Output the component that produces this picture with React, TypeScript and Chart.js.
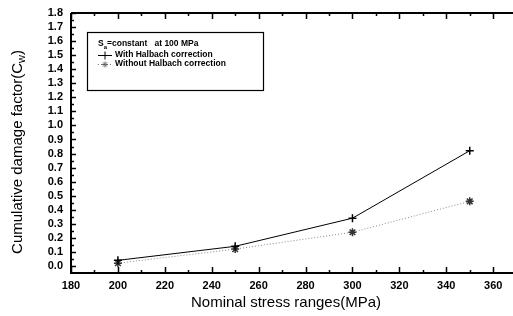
import React, { useEffect, useRef } from 'react';
import { Chart, registerables } from 'chart.js';
Chart.register(...registerables);

const stressRanges = [200, 250, 300, 350];
const withHalbach = [0.04, 0.14, 0.34, 0.82];
const withoutHalbach = [0.02, 0.12, 0.24, 0.46];
const xTickLabels = [180, 200, 220, 240, 260, 280, 300, 320, 340, 360];
const yTickLabels = [0.0, 0.1, 0.2, 0.3, 0.4, 0.5, 0.6, 0.7, 0.8, 0.9, 1.0, 1.1, 1.2, 1.3, 1.4, 1.5, 1.6, 1.7, 1.8];
const xTitle = 'Nominal stress ranges(MPa)';
const yTitle = 'Cumulative damage factor(C';
const yTitleSub = 'w';
const legendHeader = 'S';
const legendHeaderSub = 'a';
const legendHeaderRest = '=constant   at 100 MPa';
const seriesNames = ['With Halbach correction', 'Without Halbach correction'];

const FONT = '"Liberation Sans", Arial, sans-serif';

const framePlugin = {
  id: 'frame',
  afterDraw(chart: any) {
    const { ctx, chartArea, scales } = chart;
    const { left, top, bottom } = chartArea;
    const x = scales.x;
    const y = scales.y;
    const edge = chart.width;
    ctx.save();
    ctx.strokeStyle = '#000';
    ctx.fillStyle = '#000';
    ctx.lineWidth = 2;
    ctx.beginPath();
    ctx.moveTo(left, top);
    ctx.lineTo(edge, top);
    ctx.moveTo(left, top);
    ctx.lineTo(left, bottom);
    ctx.lineTo(edge, bottom);
    ctx.stroke();

    // x ticks
    ctx.lineWidth = 1.5;
    for (let v = 180; v <= 360; v += 10) {
      const px = Math.round(x.getPixelForValue(v)) + 0.5;
      const len = v % 20 === 0 ? 6 : 3;
      ctx.beginPath();
      ctx.moveTo(px, bottom);
      ctx.lineTo(px, bottom - len);
      ctx.moveTo(px, top);
      ctx.lineTo(px, top + len);
      ctx.stroke();
    }
    // y ticks
    for (let i = 0; i <= 36; i++) {
      const v = i * 0.05;
      const py = Math.round(y.getPixelForValue(v)) + 0.5;
      const len = i % 2 === 0 ? 5 : 3;
      ctx.beginPath();
      ctx.moveTo(left, py);
      ctx.lineTo(left + len, py);
      ctx.stroke();
    }

    // tick labels
    ctx.font = `bold 11px ${FONT}`;
    ctx.textAlign = 'center';
    ctx.textBaseline = 'middle';
    xTickLabels.forEach((v) => {
      ctx.fillText(String(v), x.getPixelForValue(v), bottom + 13);
    });
    ctx.textAlign = 'right';
    yTickLabels.forEach((v) => {
      ctx.fillText(v.toFixed(1), left - 8, y.getPixelForValue(v));
    });

    // axis titles
    ctx.font = `15px ${FONT}`;
    ctx.textAlign = 'center';
    ctx.fillText(xTitle, 286, 303);

    ctx.save();
    ctx.translate(18, 152);
    ctx.rotate(-Math.PI / 2);
    ctx.font = `15px ${FONT}`;
    const w1 = ctx.measureText(yTitle).width;
    ctx.font = `11px ${FONT}`;
    const w2 = ctx.measureText(yTitleSub).width;
    ctx.font = `15px ${FONT}`;
    const w3 = ctx.measureText(')').width;
    const total = w1 + w2 + w3;
    let cx = -total / 2;
    ctx.textAlign = 'left';
    ctx.fillText(yTitle, cx, 0);
    cx += w1;
    ctx.font = `11px ${FONT}`;
    ctx.fillText(yTitleSub, cx, 4);
    cx += w2;
    ctx.font = `15px ${FONT}`;
    ctx.fillText(')', cx, 0);
    ctx.restore();

    // legend box
    ctx.lineWidth = 1.2;
    ctx.strokeRect(87.5, 32.5, 176, 58);
    ctx.textAlign = 'left';
    ctx.textBaseline = 'middle';
    ctx.font = `bold 8.5px ${FONT}`;
    ctx.fillText(legendHeader, 98, 44);
    const sw = ctx.measureText(legendHeader).width;
    ctx.font = `bold 6px ${FONT}`;
    ctx.fillText(legendHeaderSub, 98 + sw, 47);
    const aw = ctx.measureText(legendHeaderSub).width;
    ctx.font = `bold 8.5px ${FONT}`;
    ctx.fillText(legendHeaderRest, 98 + sw + aw, 44);

    // series 1 sample
    ctx.lineWidth = 1;
    ctx.strokeStyle = '#000';
    ctx.beginPath();
    ctx.moveTo(98, 55.5);
    ctx.lineTo(112, 55.5);
    ctx.moveTo(105, 51.5);
    ctx.lineTo(105, 59.5);
    ctx.stroke();
    ctx.fillText(seriesNames[0], 115, 55);

    // series 2 sample
    ctx.strokeStyle = '#777';
    ctx.setLineDash([1, 2]);
    ctx.beginPath();
    ctx.moveTo(98, 64.5);
    ctx.lineTo(112, 64.5);
    ctx.stroke();
    ctx.setLineDash([]);
    ctx.strokeStyle = '#666';
    const sx = 105, sy = 64.5, r = 3;
    ctx.beginPath();
    for (let k = 0; k < 4; k++) {
      const a = (k * Math.PI) / 4;
      ctx.moveTo(sx - r * Math.cos(a), sy - r * Math.sin(a));
      ctx.lineTo(sx + r * Math.cos(a), sy + r * Math.sin(a));
    }
    ctx.stroke();
    ctx.fillText(seriesNames[1], 115, 64);

    ctx.restore();
  },
};

export default function App() {
  const ref = useRef<HTMLCanvasElement>(null);
  useEffect(() => {
    if (!ref.current) return;
    const chart = new Chart(ref.current, {
      type: 'line',
      data: {
        datasets: [
          {
            label: seriesNames[0],
            data: stressRanges.map((s, i) => ({ x: s, y: withHalbach[i] })),
            borderColor: '#000',
            backgroundColor: '#000',
            borderWidth: 1,
            pointStyle: 'cross',
            pointRadius: 4,
            pointBorderWidth: 1.5,
            pointBorderColor: '#000',
            tension: 0,
          },
          {
            label: seriesNames[1],
            data: stressRanges.map((s, i) => ({ x: s, y: withoutHalbach[i] })),
            borderColor: '#888',
            backgroundColor: '#444',
            borderWidth: 1,
            borderDash: [1, 2],
            pointStyle: 'star',
            pointRadius: 4,
            pointBorderWidth: 1.5,
            pointBorderColor: '#333',
            tension: 0,
          },
        ],
      },
      options: {
        animation: false,
        responsive: false,
        layout: { padding: { left: 71, top: 13, right: 13, bottom: 43 } },
        plugins: { legend: { display: false }, tooltip: { enabled: false } },
        scales: {
          x: { type: 'linear', min: 180, max: 362.9, display: false },
          y: { type: 'linear', min: -0.05, max: 1.8, display: false },
        },
      },
      plugins: [framePlugin],
    });
    return () => chart.destroy();
  }, []);
  return (
    <div style={{ position: 'fixed', left: 0, top: 0, width: 513, height: 316, overflow: 'hidden', background: '#fff' }}>
      <canvas ref={ref} width={513} height={316} style={{ width: 513, height: 316, display: 'block' }} />
    </div>
  );
}
